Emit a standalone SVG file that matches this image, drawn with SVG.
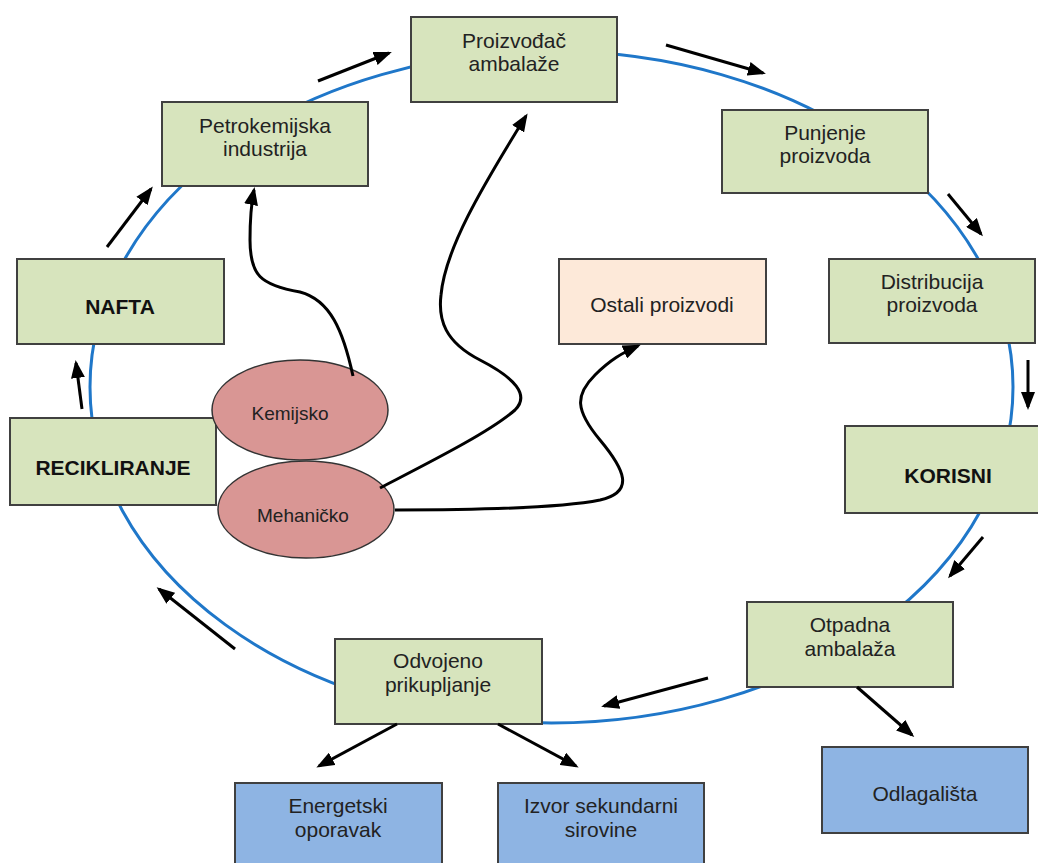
<svg xmlns="http://www.w3.org/2000/svg" width="1038" height="863" viewBox="0 0 1038 863">
<defs>
<marker id="ah" markerUnits="userSpaceOnUse" markerWidth="18" markerHeight="14" refX="15" refY="7" orient="auto">
<path d="M0,0 L18,7 L0,14 z" fill="#000"/>
</marker>
<style>
.box{stroke:#404040;stroke-width:2}
.g{fill:#D7E4BD}
.b{fill:#8EB4E3}
.p{fill:#FDE9D9}
.el{fill:#D99694;stroke:#333;stroke-width:1.5}
text{font-family:"Liberation Sans",Arial,sans-serif;font-size:21px;fill:#222;text-anchor:middle}
.bold{font-weight:bold;fill:#111}
.sm{font-size:19px}
.arr{fill:none;stroke:#000;stroke-width:3;marker-end:url(#ah)}
.cyc{fill:none;stroke:#1F77C9;stroke-width:3}
</style>
</defs>
<rect width="1038" height="863" fill="#fff"/>
<ellipse class="cyc" cx="551.5" cy="387" rx="461.5" ry="336"/>

<g id="proizvodac">
<rect class="box g" x="411" y="17" width="206" height="85"/>
<text x="514" y="48">Proizvođač</text>
<text x="514" y="71">ambalaže</text>
</g>
<g id="petrokemijska">
<rect class="box g" x="162" y="102" width="206" height="84"/>
<text x="265" y="133">Petrokemijska</text>
<text x="265" y="156">industrija</text>
</g>
<g id="punjenje">
<rect class="box g" x="722" y="110" width="206" height="83"/>
<text x="825" y="140">Punjenje</text>
<text x="825" y="163">proizvoda</text>
</g>
<g id="distribucija">
<rect class="box g" x="829" y="259" width="206" height="84"/>
<text x="932" y="289">Distribucija</text>
<text x="932" y="312">proizvoda</text>
</g>
<g id="nafta">
<rect class="box g" x="17" y="259" width="207" height="85"/>
<text class="bold" x="120" y="314">NAFTA</text>
</g>
<g id="ostali">
<rect class="box p" x="559" y="259" width="207" height="85"/>
<text x="662" y="312">Ostali proizvodi</text>
</g>
<g id="recikliranje">
<rect class="box g" x="10" y="418" width="206" height="87"/>
<text class="bold" x="113" y="475">RECIKLIRANJE</text>
</g>
<g id="korisni">
<rect class="box g" x="845" y="426" width="206" height="87"/>
<text class="bold" x="948" y="483">KORISNI</text>
</g>
<g id="otpadna">
<rect class="box g" x="747" y="602" width="206" height="85"/>
<text x="850" y="632">Otpadna</text>
<text x="850" y="656">ambalaža</text>
</g>
<g id="odvojeno">
<rect class="box g" x="335" y="639" width="207" height="85"/>
<text x="438" y="668">Odvojeno</text>
<text x="438" y="692">prikupljanje</text>
</g>
<g id="energetski">
<rect class="box b" x="235" y="783" width="207" height="86"/>
<text x="338" y="813">Energetski</text>
<text x="338" y="837">oporavak</text>
</g>
<g id="izvor">
<rect class="box b" x="498" y="783" width="206" height="86"/>
<text x="601" y="813">Izvor sekundarni</text>
<text x="601" y="837">sirovine</text>
</g>
<g id="odlagalista">
<rect class="box b" x="822" y="747" width="206" height="86"/>
<text x="925" y="801">Odlagališta</text>
</g>
<g id="kemijsko">
<ellipse class="el" cx="300" cy="410" rx="88" ry="50"/>
<text class="sm" x="290" y="420">Kemijsko</text>
</g>
<g id="mehanicko">
<ellipse class="el" cx="306" cy="509.5" rx="88" ry="48.5"/>
<text class="sm" x="303" y="522">Mehaničko</text>
</g>

<g id="connectors">
<path class="arr" d="M107,247 L151,189"/>
<path class="arr" d="M318,81 L389,53"/>
<path class="arr" d="M666,45 L763,73"/>
<path class="arr" d="M948,194 L981,234"/>
<path class="arr" d="M1028,360 L1028,407"/>
<path class="arr" d="M983,537 L950,576"/>
<path class="arr" d="M708,678 L604,706"/>
<path class="arr" d="M235,649 L159,589"/>
<path class="arr" d="M82,409 L76,363"/>
<path class="arr" d="M397,724 L319,766"/>
<path class="arr" d="M498,724 L576,766"/>
<path class="arr" d="M857,687 L912,735"/>
<path class="arr" d="M353,376 C343,330 330,300 300,292 C260,285 250,275 250,240 C250,215 252,200 254,190"/>
<path class="arr" d="M380,488 C430,462 490,432 515,410 C530,395 515,378 480,360 C445,342 438,320 441,295 C445,250 480,190 526,116"/>
<path class="arr" d="M395,510 C480,510 560,508 600,500 C635,492 625,470 600,440 C575,410 575,395 595,375 C610,360 622,353 638,346"/>
</g>
</svg>
